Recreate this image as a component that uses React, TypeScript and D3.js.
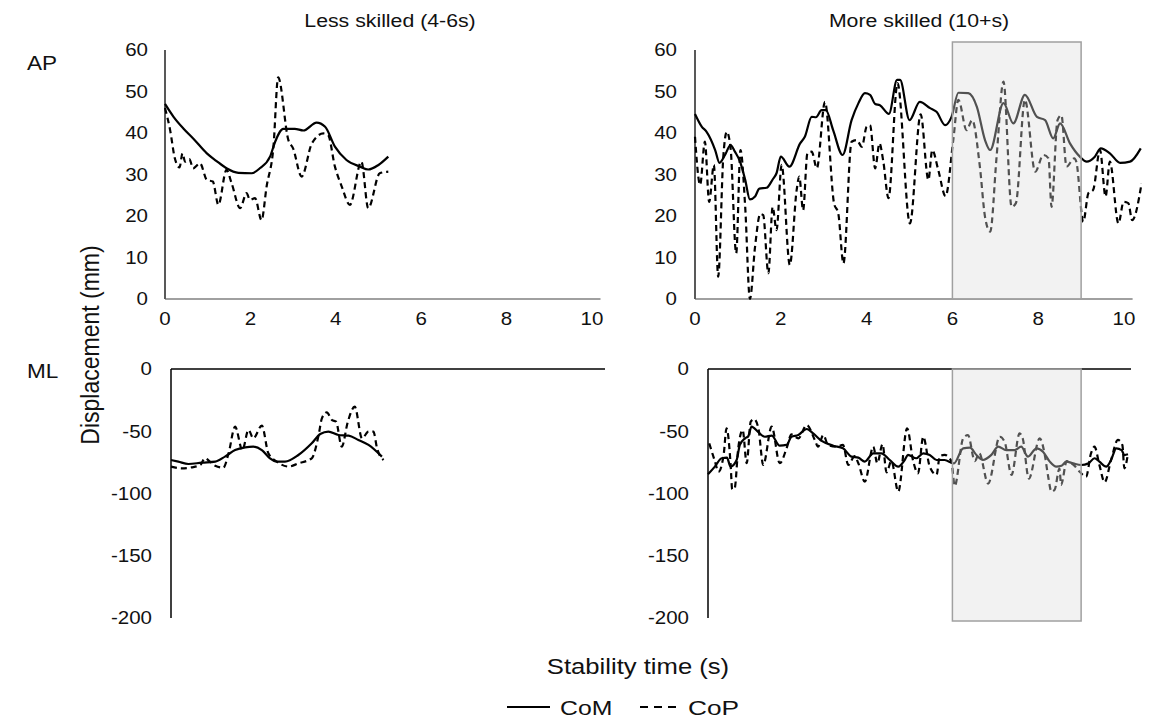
import React from "react";
import * as d3 from "d3";

// [time (s), displacement (mm)]
const lessApCoM: [number, number][] = [
  [0, 47], [0.2, 43.9], [0.43, 41.1], [0.66, 38.7], [0.98, 35.1], [1.2, 33.3], [1.44, 31.5],
  [1.72, 30.4], [2.03, 30.3], [2.22, 31.5], [2.46, 34.3], [2.58, 37.9], [2.77, 41], [3.04, 41],
  [3.24, 40.6], [3.55, 42.5], [3.75, 41.5], [3.98, 36.7], [4.25, 33.5], [4.57, 31.9], [4.76, 31.2],
  [5.0, 32.3], [5.23, 34.3],
];
const lessApCoP: [number, number][] = [
  [0, 46], [0.12, 40.7], [0.23, 33.9], [0.34, 31.7], [0.41, 35.1], [0.47, 33.1], [0.57, 33.7],
  [0.66, 31.5], [0.82, 32.7], [0.98, 28.7], [1.12, 28.3], [1.25, 22.7], [1.44, 31.1], [1.56, 27.9],
  [1.76, 21.9], [1.91, 25.5], [1.99, 23.9], [2.11, 24.3], [2.26, 19], [2.38, 27.1], [2.54, 36.7],
  [2.65, 53.4], [2.89, 38.3], [3.0, 36.3], [3.2, 29.5], [3.44, 37.5], [3.71, 39.9], [3.82, 39.5],
  [3.98, 31.9], [4.14, 27.1], [4.33, 22.7], [4.6, 33.1], [4.76, 21.9], [5.03, 30.3], [5.23, 30.7],
];
const moreApCoM: [number, number][] = [
  [0, 44.6], [0.16, 41.5], [0.27, 40.3], [0.47, 35.9], [0.57, 32.8], [0.7, 34.7], [0.83, 37.1],
  [0.93, 35.5], [1.05, 33.1], [1.17, 28.7], [1.28, 24], [1.4, 24.7], [1.5, 26.6], [1.67, 26.8],
  [1.81, 28.8], [1.9, 30.3], [2.0, 34.3], [2.2, 31.9], [2.45, 37.5], [2.56, 39.1], [2.72, 43.9],
  [2.82, 43.8], [2.95, 45.5], [3.05, 45.5], [3.22, 40.7], [3.44, 34.7], [3.65, 43.1], [3.81, 47.2],
  [3.96, 49.6], [4.08, 49.2], [4.2, 47], [4.31, 46.7], [4.52, 44.6], [4.71, 52.8], [4.78, 52.8],
  [5.0, 43.1], [5.24, 47.5], [5.48, 46], [5.63, 45.1], [5.83, 41.9], [5.98, 43.9], [6.14, 49.7],
  [6.37, 49.6], [6.57, 46.3], [6.76, 38.3], [6.88, 35.9], [7.19, 47.2], [7.42, 42.3], [7.69, 49.2],
  [7.97, 43.9], [8.16, 43.1], [8.35, 38.7], [8.51, 42.3], [8.74, 37.5], [8.97, 34.3], [9.13, 33.1],
  [9.32, 34.3], [9.46, 36.3], [9.67, 35.1], [9.91, 32.8], [10.14, 33.1], [10.39, 36.3],
];
const moreApCoP: [number, number][] = [
  [0, 39.1], [0.12, 27.5], [0.23, 37.9], [0.33, 23.4], [0.44, 32.3], [0.54, 5.4], [0.66, 34.3],
  [0.74, 40.3], [0.83, 36.3], [0.96, 11], [1.06, 35.9], [1.17, 22.2], [1.28, 0], [1.4, 12.6],
  [1.52, 20.5], [1.59, 20.2], [1.71, 6.2], [1.81, 22.2], [1.9, 16.6], [2.02, 32.3], [2.21, 8.2],
  [2.37, 26.3], [2.43, 29.5], [2.52, 21.4], [2.62, 35.1], [2.72, 35.5], [2.84, 31.5], [3.03, 47.5],
  [3.24, 23.1], [3.34, 20.6], [3.46, 8.6], [3.65, 37.9], [3.77, 38.3], [3.89, 36.7], [4.0, 41.5],
  [4.08, 41.9], [4.2, 31.5], [4.3, 37.5], [4.39, 33.1], [4.51, 24.3], [4.72, 52], [5.01, 18.2],
  [5.26, 44.5], [5.44, 28.7], [5.53, 35.9], [5.67, 31.1], [5.84, 24.8], [6.02, 38.3], [6.14, 48],
  [6.33, 40.7], [6.46, 43.1], [6.64, 31.9], [6.76, 19.8], [6.88, 16.2], [7.03, 34.3], [7.19, 52.4],
  [7.38, 22.2], [7.48, 23.1], [7.69, 48], [7.93, 30.7], [8.12, 34.7], [8.24, 33.9], [8.31, 22.2],
  [8.45, 43.1], [8.54, 44.3], [8.66, 31.9], [8.84, 33.9], [8.89, 33], [9.05, 18.6], [9.17, 25.5],
  [9.28, 26.3], [9.44, 35.9], [9.57, 24.7], [9.67, 33.1], [9.87, 18.2], [9.99, 23.4], [10.1, 23.1],
  [10.19, 19], [10.41, 27.9],
];
const lessMlCoM: [number, number][] = [
  [0, -73.1], [0.18, -74.4], [0.43, -76.3], [0.76, -75.2], [1.09, -74.4], [1.33, -70.4],
  [1.58, -65.1], [1.83, -62.9], [2.03, -62.4], [2.24, -65.1], [2.44, -71.7], [2.61, -74.4],
  [2.81, -74.4], [3.14, -69.1], [3.47, -59.7], [3.68, -52.2], [3.88, -50.3], [4.13, -53],
  [4.38, -53.5], [4.62, -57], [4.87, -61], [5.2, -70.4],
];
const lessMlCoP: [number, number][] = [
  [0, -78.4], [0.26, -79.8], [0.51, -79], [0.72, -77.1], [0.84, -71.7], [0.96, -74.4],
  [1.09, -77.7], [1.29, -79.3], [1.42, -67.7], [1.58, -46.3], [1.76, -65.1], [1.91, -49],
  [2.03, -55.7], [2.24, -45.5], [2.4, -67.7], [2.61, -74.4], [2.9, -78.4], [3.14, -75.8],
  [3.47, -71.7], [3.64, -53], [3.72, -39.6], [3.84, -34.8], [3.97, -41], [4.07, -42.3],
  [4.21, -62.4], [4.36, -42.3], [4.53, -30.3], [4.71, -55.7], [4.87, -50.3], [4.99, -50.3],
  [5.08, -63.7], [5.24, -73.1],
];
const moreMlCoM: [number, number][] = [
  [0, -84.6], [0.17, -78.4], [0.34, -71.7], [0.47, -71.2], [0.56, -78.4], [0.71, -73.1],
  [0.79, -61], [0.92, -55.7], [1.0, -54], [1.08, -46.3], [1.25, -50.8], [1.41, -54.4],
  [1.58, -53.5], [1.78, -61.6], [1.95, -61], [2.07, -54.4], [2.24, -53], [2.45, -48.2],
  [2.61, -51.7], [2.82, -57.8], [3.11, -61.6], [3.35, -63.7], [3.56, -70.4], [3.73, -71.2],
  [3.89, -74.4], [4.1, -67.7], [4.3, -67.7], [4.51, -73.1], [4.72, -78.4], [4.88, -73.1],
  [4.96, -69], [5.17, -71.7], [5.34, -67.7], [5.5, -69], [5.67, -73.1], [5.87, -73.1],
  [6.1, -75.8], [6.33, -63.7], [6.5, -63.2], [6.66, -69.1], [6.82, -73.1], [7.03, -69],
  [7.2, -62.4], [7.4, -65.1], [7.61, -65.1], [7.77, -62.4], [7.94, -70.4], [8.15, -63.7],
  [8.31, -66.4], [8.48, -74.4], [8.64, -78.4], [8.77, -77.7], [8.89, -74.4], [9.06, -75.8],
  [9.26, -77.1], [9.44, -75.8], [9.59, -71.7], [9.71, -74.4], [9.88, -78.4], [10.0, -73.1],
  [10.13, -63.7], [10.26, -65.1], [10.33, -69.1], [10.42, -68.5],
];
const moreMlCoP: [number, number][] = [
  [0.03, -59.7], [0.17, -74], [0.26, -82.5], [0.39, -68.5], [0.46, -47.6], [0.56, -76],
  [0.6, -96.6], [0.66, -96], [0.75, -63.7], [0.86, -49], [0.96, -75.7], [1.06, -42.3],
  [1.14, -40.2], [1.25, -47.6], [1.37, -77.1], [1.58, -46.3], [1.78, -75.7], [1.95, -63.7],
  [2.07, -52.5], [2.24, -55.7], [2.45, -45], [2.65, -57], [2.73, -62.4], [2.86, -53],
  [2.98, -61], [3.19, -62.4], [3.35, -61], [3.48, -77.1], [3.64, -70], [3.73, -75.7],
  [3.89, -90.5], [4.1, -62.4], [4.2, -75.7], [4.33, -60.5], [4.43, -83], [4.55, -74],
  [4.72, -98.5], [4.94, -47.6], [5.09, -74], [5.21, -83.8], [5.34, -54.4], [5.5, -78.4],
  [5.67, -85], [5.75, -70], [5.87, -69], [6.04, -74], [6.12, -94], [6.33, -55.7],
  [6.45, -53], [6.62, -74], [6.73, -67.7], [6.95, -92], [7.24, -54.4], [7.36, -58.5],
  [7.53, -85.1], [7.73, -51.7], [7.81, -56], [7.96, -88], [8.23, -55.7], [8.35, -68],
  [8.44, -86.5], [8.52, -98.5], [8.6, -97], [8.72, -80], [8.76, -93], [8.9, -74],
  [9.07, -77], [9.22, -82.5], [9.38, -86.5], [9.5, -68], [9.59, -62.4], [9.71, -77],
  [9.84, -91], [10.0, -73], [10.17, -57], [10.28, -61], [10.33, -79.8], [10.42, -67.7],
];

const apTicks = [0, 10, 20, 30, 40, 50, 60];
const mlTicks = [0, -50, -100, -150, -200];
const timeTicks = [0, 2, 4, 6, 8, 10];
const shadeWindow = [6, 9];
const groupTitles = ["Less skilled (4-6s)", "More skilled (10+s)"];

const font = "'Liberation Sans', Arial, sans-serif";
const stretch = 1.14; // the source figure is a little wider than tall

// text stretched horizontally to match the source
const T = ({ x, y, size, anchor = "start", sx = stretch, dy, children }: any) => (
  <text transform={`translate(${x},${y}) scale(${sx},1)`} fontSize={size} textAnchor={anchor} dy={dy}>
    {children}
  </text>
);

export default function App() {
  // scales for the four panels
  const xTL = d3.scaleLinear().domain([0, 10.2]).range([165, 600.5]);
  const xTR = d3.scaleLinear().domain([0, 10.2]).range([695, 1132.6]);
  const xBL = d3.scaleLinear().domain([0, 10.7]).range([171, 605]);
  const xBR = d3.scaleLinear().domain([0, 10.42]).range([708, 1128]);
  const yTop = d3.scaleLinear().domain([0, 60]).range([299, 50]);
  const yBot = d3.scaleLinear().domain([-200, 0]).range([618, 369]);

  const path = (x: d3.ScaleLinear<number, number>, y: d3.ScaleLinear<number, number>, data: [number, number][]) =>
    d3.line<[number, number]>().x((d) => x(d[0])).y((d) => y(d[1])).curve(d3.curveMonotoneX)(data) || "";

  const lineStyle = { fill: "none", stroke: "#000", strokeWidth: 2.2, strokeLinejoin: "round" as const };
  const dash = "6,4";

  const yLabelsTop = (x: number) =>
    apTicks.map((t) => <T key={t} x={x} y={yTop(t)} dy="0.36em" anchor="end" size={18}>{t}</T>);
  const yLabelsBot = (x: number) =>
    mlTicks.map((t) => <T key={t} x={x} y={yBot(t)} dy="0.36em" anchor="end" size={18}>{t}</T>);
  const xLabels = (x: d3.ScaleLinear<number, number>) =>
    timeTicks.map((t) => <T key={t} x={x(t)} y={yTop(0) + 26} anchor="middle" size={18}>{t}</T>);

  const shadeX = xTR(shadeWindow[0]);
  const shadeW = xTR(shadeWindow[1]) - shadeX;

  return (
    <svg width={1154} height={725} style={{ position: "absolute", left: 0, top: 0, background: "#fff" }} fontFamily={font} fill="#111">
      {/* titles */}
      <T x={390} y={27} anchor="middle" size={19} sx={1.12}>{groupTitles[0]}</T>
      <T x={919} y={27} anchor="middle" size={19} sx={1.12}>{groupTitles[1]}</T>
      <T x={27} y={70} size={20.5} sx={1.1}>AP</T>
      <T x={27} y={378} size={20.5} sx={1.1}>ML</T>
      <text transform={`translate(99,345) scale(${stretch},1) rotate(-90)`} textAnchor="middle" fontSize={23}>Displacement (mm)</text>
      <T x={638} y={674} anchor="middle" size={22.5}>Stability time (s)</T>

      {/* top-left AP */}
      {yLabelsTop(148)}
      {xLabels(xTL)}
      <line x1={xTL(0)} x2={xTL(10.2)} y1={yTop(0)} y2={yTop(0)} stroke="#808080" strokeWidth={1.5} />
      <line x1={xTL(0)} x2={xTL(0)} y1={yTop(60)} y2={yTop(0)} stroke="#595959" strokeWidth={2} />
      <path d={path(xTL, yTop, lessApCoP)} {...lineStyle} strokeDasharray={dash} />
      <path d={path(xTL, yTop, lessApCoM)} {...lineStyle} />

      {/* top-right AP */}
      {yLabelsTop(677)}
      {xLabels(xTR)}
      <line x1={xTR(0)} x2={xTR(10.2)} y1={yTop(0)} y2={yTop(0)} stroke="#808080" strokeWidth={1.5} />
      <line x1={xTR(0)} x2={xTR(0)} y1={yTop(60)} y2={yTop(0)} stroke="#595959" strokeWidth={2} />
      <path d={path(xTR, yTop, moreApCoP)} {...lineStyle} strokeDasharray={dash} />
      <path d={path(xTR, yTop, moreApCoM)} {...lineStyle} />
      <rect x={shadeX} y={yTop(60) - 8} width={shadeW} height={yTop(0) - yTop(60) + 8}
        fill="#dbdbdb" fillOpacity={0.37} stroke="#a0a0a0" strokeWidth={1.5} />

      {/* bottom-left ML */}
      {yLabelsBot(152)}
      <line x1={xBL(0)} x2={xBL(10.7)} y1={yBot(0)} y2={yBot(0)} stroke="#000" strokeWidth={1.5} />
      <line x1={xBL(0)} x2={xBL(0)} y1={yBot(0)} y2={yBot(-200)} stroke="#000" strokeWidth={1.5} />
      <path d={path(xBL, yBot, lessMlCoP)} {...lineStyle} strokeDasharray={dash} />
      <path d={path(xBL, yBot, lessMlCoM)} {...lineStyle} />

      {/* bottom-right ML */}
      {yLabelsBot(689)}
      <line x1={xBR(0)} x2={xBR(0) + 423} y1={yBot(0)} y2={yBot(0)} stroke="#000" strokeWidth={1.5} />
      <line x1={xBR(0)} x2={xBR(0)} y1={yBot(0)} y2={yBot(-200)} stroke="#000" strokeWidth={1.5} />
      <path d={path(xBR, yBot, moreMlCoP)} {...lineStyle} strokeDasharray={dash} />
      <path d={path(xBR, yBot, moreMlCoM)} {...lineStyle} />
      <rect x={shadeX} y={yBot(0)} width={shadeW} height={yBot(-200) - yBot(0) + 3}
        fill="#dbdbdb" fillOpacity={0.37} stroke="#a0a0a0" strokeWidth={1.5} />

      {/* legend */}
      <line x1={507} x2={550} y1={707} y2={707} stroke="#000" strokeWidth={2} />
      <T x={560} y={715} size={21} sx={1.18}>CoM</T>
      <line x1={640} x2={680} y1={707} y2={707} stroke="#000" strokeWidth={2} strokeDasharray="8,6" />
      <T x={688} y={715} size={21} sx={1.25}>CoP</T>
    </svg>
  );
}
